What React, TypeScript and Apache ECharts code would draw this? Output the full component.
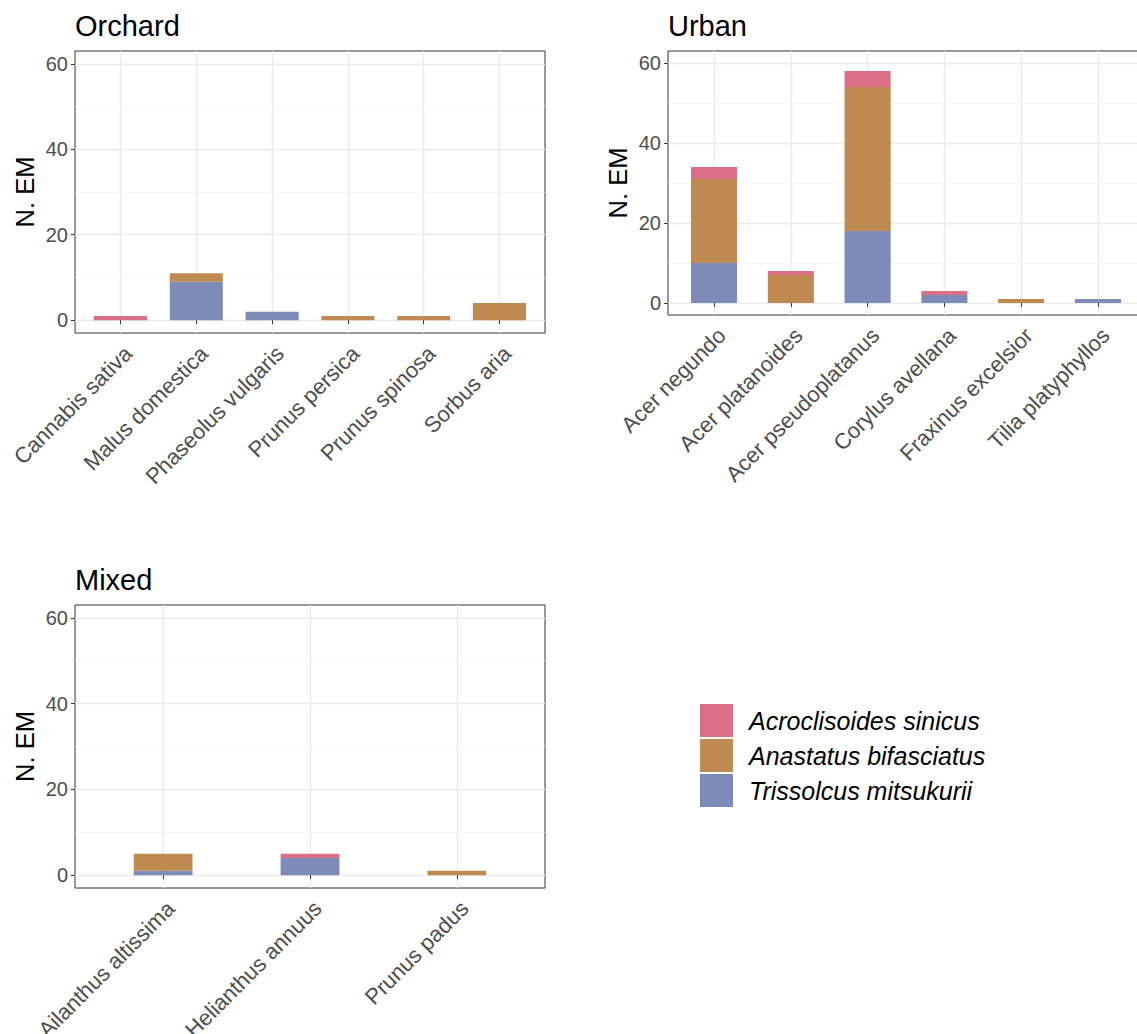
import React, { useEffect, useRef } from 'react';
import * as echarts from 'echarts';

// ---- data ----
const speciesNames = ['Acroclisoides sinicus', 'Anastatus bifasciatus', 'Trissolcus mitsukurii'];
const speciesColors = ['#DB6F87', '#BE8A52', '#7E8BB8'];

const orchardCategories = ['Cannabis sativa', 'Malus domestica', 'Phaseolus vulgaris', 'Prunus persica', 'Prunus spinosa', 'Sorbus aria'];
const orchardAcroclisoides = [1, 0, 0, 0, 0, 0];
const orchardAnastatus = [0, 2, 0, 1, 1, 4];
const orchardTrissolcus = [0, 9, 2, 0, 0, 0];

const urbanCategories = ['Acer negundo', 'Acer platanoides', 'Acer pseudoplatanus', 'Corylus avellana', 'Fraxinus excelsior', 'Tilia platyphyllos'];
const urbanAcroclisoides = [3, 1, 4, 1, 0, 0];
const urbanAnastatus = [21, 7, 36, 0, 1, 0];
const urbanTrissolcus = [10, 0, 18, 2, 0, 1];

const mixedCategories = ['Ailanthus altissima', 'Helianthus annuus', 'Prunus padus'];
const mixedAcroclisoides = [0, 1, 0];
const mixedAnastatus = [4, 0, 1];
const mixedTrissolcus = [1, 4, 0];

const panelTitles = ['Orchard', 'Urban', 'Mixed'];
const yAxisTitle = 'N. EM';
const yTicks = [0, 20, 40, 60];
const yMinorTicks = [10, 30, 50];
const Y_MIN = -3;
const Y_MAX = 63;

const FONT = "'Liberation Sans', Arial, Helvetica, sans-serif";

// stacking order bottom -> top
const stackOrder = [2, 1, 0];

const panels = [
  { title: panelTitles[0], categories: orchardCategories, values: [orchardAcroclisoides, orchardAnastatus, orchardTrissolcus], left: 75, top: 51, width: 470, height: 282, barRatio: 0.7, titleTop: 11 },
  { title: panelTitles[1], categories: urbanCategories, values: [urbanAcroclisoides, urbanAnastatus, urbanTrissolcus], left: 668, top: 51, width: 476, height: 264, barRatio: 0.6, titleTop: 11 },
  { title: panelTitles[2], categories: mixedCategories, values: [mixedAcroclisoides, mixedAnastatus, mixedTrissolcus], left: 75, top: 605, width: 470, height: 283, barRatio: 0.4, titleTop: 565 },
];

function buildOption() {
  const option: any = {
    animation: false,
    backgroundColor: '#ffffff',
    textStyle: { fontFamily: FONT },
    grid: [],
    xAxis: [],
    yAxis: [],
    series: [],
    legend: {
      orient: 'vertical',
      left: 700,
      top: 704,
      padding: 0,
      itemWidth: 33,
      itemHeight: 33,
      itemGap: 2,
      icon: 'rect',
      selectedMode: false,
      data: speciesNames,
      textStyle: { fontSize: 25, fontStyle: 'italic', color: '#000000', fontFamily: FONT, padding: [0, 0, 0, 11] },
    },
    graphic: panels.map((p) => ({
      type: 'text',
      left: p.left,
      top: p.titleTop,
      style: { text: p.title, fill: '#000000', font: `29px ${FONT}` },
    })),
  };

  panels.forEach((p, i) => {
    const n = p.categories.length;
    const unit = p.width / (n - 1 + 1.2);
    const frameGrid = option.grid.length;
    option.grid.push({
      left: p.left, top: p.top, width: p.width, height: p.height,
      show: true, borderColor: '#333333', borderWidth: 1, backgroundColor: 'transparent',
      containLabel: false, outerBoundsMode: 'none',
    });
    const dataGrid = option.grid.length;
    option.grid.push({
      left: p.left + 0.6 * unit, top: p.top, width: (n - 1) * unit, height: p.height, show: false,
      containLabel: false, outerBoundsMode: 'none',
    });

    option.xAxis.push({ type: 'value', gridIndex: frameGrid, min: 0, max: 1, show: false });
    const dx = option.xAxis.length;
    option.xAxis.push({
      type: 'category', gridIndex: dataGrid, data: p.categories, boundaryGap: false,
      axisLine: { show: false },
      axisTick: { show: true, length: 4, lineStyle: { color: '#333333', width: 1 } },
      axisLabel: { interval: 0, rotate: 45, fontSize: 22, color: '#4d4d4d', fontFamily: FONT, margin: 9, verticalAlign: 'top', align: 'right' },
      splitLine: { show: true, interval: 0, lineStyle: { color: '#ebebeb', width: 1.3 } },
    });

    option.yAxis.push({
      type: 'value', gridIndex: frameGrid, min: Y_MIN, max: Y_MAX, position: 'left',
      name: yAxisTitle, nameLocation: 'middle', nameGap: 37,
      nameTextStyle: { fontSize: 25.5, color: '#000000', fontFamily: FONT },
      axisLine: { show: false },
      axisTick: { show: true, length: 4, customValues: yTicks, lineStyle: { color: '#333333', width: 1 } },
      axisLabel: { customValues: yTicks, fontSize: 20, color: '#4d4d4d', margin: 7, fontFamily: FONT },
      splitLine: { show: true, lineStyle: { color: '#ebebeb', width: 1.3 } },
    });
    option.yAxis.push({
      type: 'value', gridIndex: frameGrid, min: Y_MIN, max: Y_MAX, position: 'left',
      axisLine: { show: false },
      axisTick: { show: false, customValues: yMinorTicks },
      axisLabel: { show: false, customValues: yMinorTicks },
      splitLine: { show: true, lineStyle: { color: '#f3f3f3', width: 0.8 } },
    });
    const dy = option.yAxis.length;
    option.yAxis.push({ type: 'value', gridIndex: dataGrid, min: Y_MIN, max: Y_MAX, show: false });

    stackOrder.forEach((s) => {
      option.series.push({
        type: 'bar',
        name: speciesNames[s],
        xAxisIndex: dx,
        yAxisIndex: dy,
        stack: 'panel' + i,
        barWidth: p.barRatio * unit,
        clip: false,
        data: p.values[s],
        itemStyle: { color: speciesColors[s] },
        emphasis: { disabled: true },
      });
    });
  });
  return option;
}

export default function App() {
  const ref = useRef<HTMLDivElement>(null);
  useEffect(() => {
    if (!ref.current) return;
    const chart = echarts.init(ref.current, null, { renderer: 'svg' });
    chart.setOption(buildOption());
    return () => chart.dispose();
  }, []);
  return (
    <div
      ref={ref}
      style={{ position: 'fixed', left: 0, top: 0, width: 1137, height: 1034, background: '#fff' }}
    />
  );
}
